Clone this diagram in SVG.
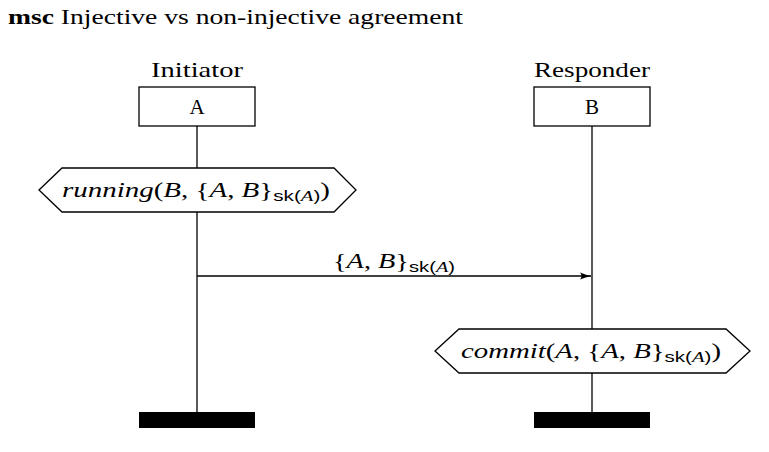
<svg xmlns="http://www.w3.org/2000/svg" width="769" height="452" viewBox="0 0 769 452">
<style>
text{font-family:"Liberation Serif","DejaVu Serif",serif;fill:#000;font-size:21px}
.box{fill:#fff;stroke:#000;stroke-width:1.3}
.life{stroke:#000;stroke-width:1.3}
.hex{fill:#fff;stroke:#000;stroke-width:1.3}
.end{fill:#000}
.it{font-style:italic}
.sub{font-family:"Liberation Sans","DejaVu Sans",sans-serif;font-size:15px}
.subi{font-family:"Liberation Serif",serif;font-style:italic;font-size:15px}
.msg{stroke:#000;stroke-width:1.3;fill:none}
</style>
<defs>
<marker id="arr" markerWidth="12" markerHeight="10" refX="11" refY="5" orient="auto" markerUnits="userSpaceOnUse">
<path d="M0,1.5 Q6,4 11,5 Q6,6 0,8.5 Q3,5 0,1.5Z" fill="#000"/>
</marker>
</defs>
<text x="8" y="24" textLength="455" lengthAdjust="spacingAndGlyphs"><tspan font-weight="bold">msc</tspan> Injective vs non-injective agreement</text>
<g id="connectors">
<line class="life" x1="197" y1="126" x2="197" y2="412"/>
<line class="life" x1="592" y1="126" x2="592" y2="412"/>
<line class="msg" x1="197" y1="276" x2="591" y2="276" marker-end="url(#arr)"/>
<text x="333" y="268" textLength="122" lengthAdjust="spacingAndGlyphs"><tspan>{</tspan><tspan class="it">A</tspan><tspan>, </tspan><tspan class="it">B</tspan><tspan>}</tspan><tspan class="sub" dy="4">sk(</tspan><tspan class="subi">A</tspan><tspan class="sub">)</tspan></text>
</g>
<g id="initiator">
<text x="151" y="77" textLength="92" lengthAdjust="spacingAndGlyphs">Initiator</text>
<rect class="box" x="139" y="87" width="116" height="39"/>
<text x="197" y="114" text-anchor="middle">A</text>
<rect class="end" x="139" y="412" width="116" height="16"/>
</g>
<g id="responder">
<text x="534" y="77" textLength="116" lengthAdjust="spacingAndGlyphs">Responder</text>
<rect class="box" x="534" y="87" width="116" height="39"/>
<text x="592" y="114" text-anchor="middle">B</text>
<rect class="end" x="534" y="412" width="116" height="16"/>
</g>
<g id="running">
<polygon class="hex" points="39,190 62,168 334,168 356,190 334,212 62,212"/>
<text x="62" y="197" textLength="268" lengthAdjust="spacingAndGlyphs"><tspan class="it">running</tspan><tspan>(</tspan><tspan class="it">B</tspan><tspan>, {</tspan><tspan class="it">A</tspan><tspan>, </tspan><tspan class="it">B</tspan><tspan>}</tspan><tspan class="sub" dy="4">sk(</tspan><tspan class="subi">A</tspan><tspan class="sub">)</tspan><tspan dy="-4">)</tspan></text>
</g>
<g id="commit">
<polygon class="hex" points="435,351 459,329 726,329 750,351 726,373 459,373"/>
<text x="461" y="358" textLength="260" lengthAdjust="spacingAndGlyphs"><tspan class="it">commit</tspan><tspan>(</tspan><tspan class="it">A</tspan><tspan>, {</tspan><tspan class="it">A</tspan><tspan>, </tspan><tspan class="it">B</tspan><tspan>}</tspan><tspan class="sub" dy="4">sk(</tspan><tspan class="subi">A</tspan><tspan class="sub">)</tspan><tspan dy="-4">)</tspan></text>
</g>
</svg>
